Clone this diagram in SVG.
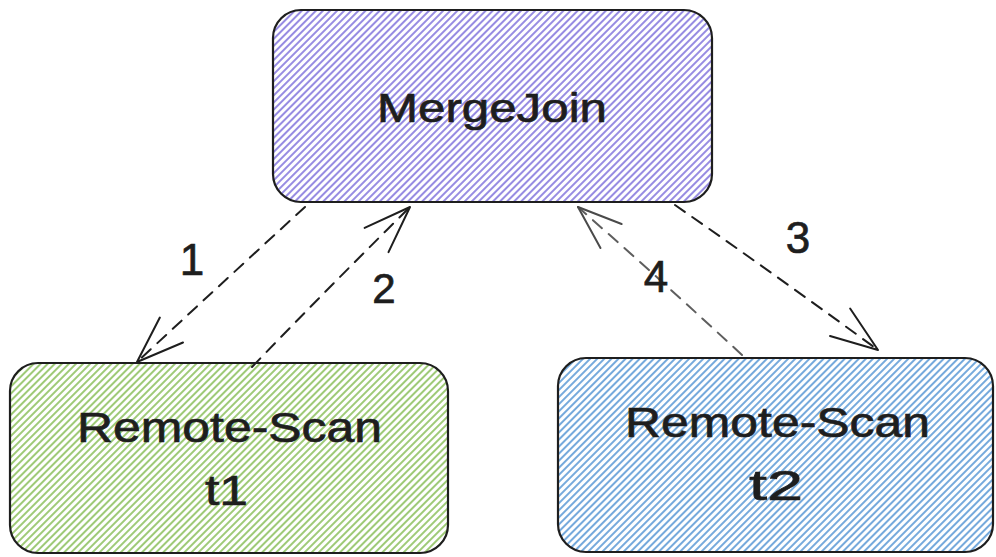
<svg xmlns="http://www.w3.org/2000/svg" width="996" height="557" viewBox="0 0 996 557">
  <style>
    .box { stroke: #1e1e1e; stroke-width: 2.2; }
    .label { font-family: "Liberation Sans", Arial, sans-serif; fill: #1e1e1e; stroke: #1e1e1e; stroke-width: 0.7; text-anchor: middle; }
    .flow { fill: none; stroke: #1e1e1e; stroke-width: 2; stroke-dasharray: 12 9; stroke-linecap: round; }
    .flow.faded { stroke: #5e5e5e; }
  </style>
  <defs>
    <!-- hachure fills -->
    <pattern id="hatch-violet" width="5" height="10" patternUnits="userSpaceOnUse" patternTransform="rotate(45)">
      <rect width="5" height="10" fill="#ffffff"/>
      <line x1="1" y1="0" x2="1" y2="10" stroke="#7d6fdb" stroke-width="1.6"/>
    </pattern>
    <pattern id="hatch-green" width="5" height="10" patternUnits="userSpaceOnUse" patternTransform="rotate(45)">
      <rect width="5" height="10" fill="#ffffff"/>
      <line x1="1" y1="0" x2="1" y2="10" stroke="#86bd55" stroke-width="1.6"/>
    </pattern>
    <pattern id="hatch-blue" width="5" height="10" patternUnits="userSpaceOnUse" patternTransform="rotate(45)">
      <rect width="5" height="10" fill="#ffffff"/>
      <line x1="1" y1="0" x2="1" y2="10" stroke="#5394d4" stroke-width="1.6"/>
    </pattern>
    <!-- open arrowheads -->
    <marker id="head" markerUnits="userSpaceOnUse" markerWidth="60" markerHeight="60" viewBox="-55 -30 60 60" refX="0" refY="0" orient="auto" overflow="visible">
      <path d="M-47,-17 L0,0 L-47,17" fill="none" stroke="#1e1e1e" stroke-width="2" stroke-linecap="round" stroke-linejoin="round"/>
    </marker>
    <marker id="head-faded" markerUnits="userSpaceOnUse" markerWidth="60" markerHeight="60" viewBox="-55 -30 60 60" refX="0" refY="0" orient="auto" overflow="visible">
      <path d="M-44,-16 L0,0 L-44,16" fill="none" stroke="#4a4a4a" stroke-width="2" stroke-linecap="round" stroke-linejoin="round"/>
    </marker>
  </defs>

  <rect width="996" height="557" fill="#ffffff"/>

  <g id="mergejoin">
    <rect class="box" x="273" y="10" width="439" height="192" rx="28" fill="url(#hatch-violet)"/>
    <text class="label" x="492" y="122" font-size="40" textLength="230" lengthAdjust="spacingAndGlyphs">MergeJoin</text>
  </g>

  <g id="remote-scan-t1">
    <rect class="box" x="10" y="363" width="438" height="190" rx="28" fill="url(#hatch-green)"/>
    <text class="label" x="229.5" y="442" font-size="42" textLength="305" lengthAdjust="spacingAndGlyphs">Remote-Scan</text>
    <text class="label" x="226.5" y="505" font-size="42" textLength="43" lengthAdjust="spacingAndGlyphs">t1</text>
  </g>

  <g id="remote-scan-t2">
    <rect class="box" x="558" y="358" width="435" height="194" rx="28" fill="url(#hatch-blue)"/>
    <text class="label" x="777.5" y="437" font-size="42" textLength="305" lengthAdjust="spacingAndGlyphs">Remote-Scan</text>
    <text class="label" x="776" y="500" font-size="42" textLength="54" lengthAdjust="spacingAndGlyphs">t2</text>
  </g>

  <g id="connectors">
    <!-- 1: MergeJoin requests t1 -->
    <path class="flow" d="M305,207 Q222,283 137,362" marker-end="url(#head)"/>
    <!-- 2: t1 returns to MergeJoin -->
    <path class="flow" d="M252,367 Q330,286 410,207" marker-end="url(#head)"/>
    <!-- 3: MergeJoin requests t2 -->
    <path class="flow" d="M675,205 Q777,276 878,350" marker-end="url(#head)"/>
    <!-- 4: t2 returns to MergeJoin -->
    <path class="flow faded" d="M742,355 Q661,280 578,207" marker-end="url(#head-faded)"/>
  </g>

  <g id="step-labels">
    <text class="label" x="192" y="275" font-size="44">1</text>
    <text class="label" x="384" y="303" font-size="42">2</text>
    <text class="label" x="798" y="253" font-size="44">3</text>
    <text class="label" x="656" y="292" font-size="44">4</text>
  </g>
</svg>
